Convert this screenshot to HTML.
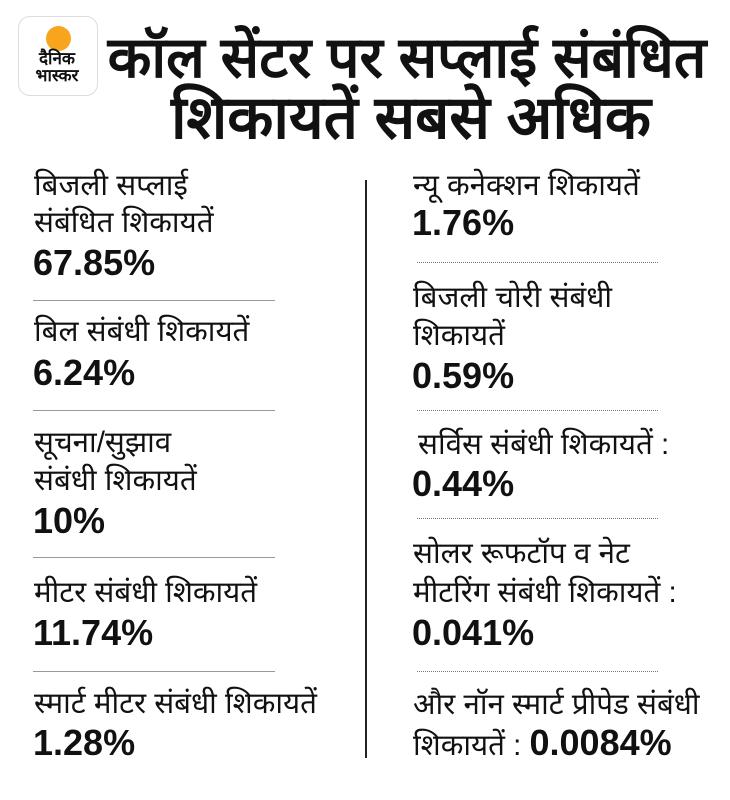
<!DOCTYPE html>
<html><head><meta charset="utf-8"><style>
html,body{margin:0;padding:0;background:#fff;}
body{width:730px;height:800px;position:relative;overflow:hidden;font-family:"Liberation Sans",sans-serif;color:#111;}
.t{position:absolute;white-space:nowrap;font-size:29.5px;line-height:37px;}
.v{position:absolute;white-space:nowrap;font-size:36px;font-weight:bold;line-height:37px;letter-spacing:0px;}
.hl{position:absolute;height:0;border-top:1px solid #999;}
.hd{position:absolute;height:0;border-top:1px dotted #777;}
.title{position:absolute;font-weight:bold;line-height:60px;white-space:nowrap;color:#111;text-align:center;width:700px;}
</style></head><body>
<div style="position:absolute;left:18px;top:16px;width:78px;height:78px;border:1px solid #ddd;border-radius:12px;background:#fff;"></div>
<div style="position:absolute;left:46px;top:26px;width:25px;height:25px;border-radius:50%;background:#f7a51c;"></div>
<div style="position:absolute;left:27px;top:50px;width:60px;text-align:center;font-weight:bold;font-size:17px;line-height:17px;">दैनिक<br>भास्कर</div>
<div class="title" style="left:57px;top:28px;font-size:57px;">कॉल सेंटर पर सप्लाई संबंधित</div>
<div class="title" style="left:61px;top:88px;font-size:60px;">शिकायतें सबसे अधिक</div>

<div style="position:absolute;left:365px;top:180px;width:2px;height:578px;background:#222;"></div>

<div class="t" style="left:34px;top:167px;">बिजली सप्लाई</div>
<div class="t" style="left:34px;top:204px;">संबंधित शिकायतें</div>
<div class="v" style="left:33px;top:244px;">67.85%</div>
<div class="hl" style="left:33px;top:300px;width:242px;"></div>
<div class="t" style="left:34px;top:313px;">बिल संबंधी शिकायतें</div>
<div class="v" style="left:33px;top:354px;">6.24%</div>
<div class="hl" style="left:33px;top:410px;width:242px;"></div>
<div class="t" style="left:34px;top:424px;">सूचना/सुझाव</div>
<div class="t" style="left:34px;top:462px;">संबंधी शिकायतें</div>
<div class="v" style="left:33px;top:502px;">10%</div>
<div class="hl" style="left:33px;top:557px;width:242px;"></div>
<div class="t" style="left:34px;top:574px;">मीटर संबंधी शिकायतें</div>
<div class="v" style="left:33px;top:614px;">11.74%</div>
<div class="hl" style="left:33px;top:671px;width:242px;"></div>
<div class="t" style="left:34px;top:685px;">स्मार्ट मीटर संबंधी शिकायतें</div>
<div class="v" style="left:33px;top:724px;">1.28%</div>

<div class="t" style="left:413px;top:167px;">न्यू कनेक्शन शिकायतें</div>
<div class="v" style="left:412px;top:204px;">1.76%</div>
<div class="hd" style="left:417px;top:262px;width:241px;"></div>
<div class="t" style="left:413px;top:279px;">बिजली चोरी संबंधी</div>
<div class="t" style="left:413px;top:317px;">शिकायतें</div>
<div class="v" style="left:412px;top:357px;">0.59%</div>
<div class="hd" style="left:417px;top:410px;width:241px;"></div>
<div class="t" style="left:418px;top:426px;">सर्विस संबंधी शिकायतें :</div>
<div class="v" style="left:412px;top:465px;">0.44%</div>
<div class="hd" style="left:417px;top:518px;width:241px;"></div>
<div class="t" style="left:413px;top:535px;">सोलर रूफटॉप व नेट</div>
<div class="t" style="left:413px;top:574px;">मीटरिंग संबंधी शिकायतें :</div>
<div class="v" style="left:412px;top:614px;">0.041%</div>
<div class="hd" style="left:417px;top:671px;width:241px;"></div>
<div class="t" style="left:413px;top:686px;">और नॉन स्मार्ट प्रीपेड संबंधी</div>
<div class="t" style="left:413px;top:724px;">शिकायतें : <b style="font-size:36px;">0.0084%</b></div>
</body></html>
